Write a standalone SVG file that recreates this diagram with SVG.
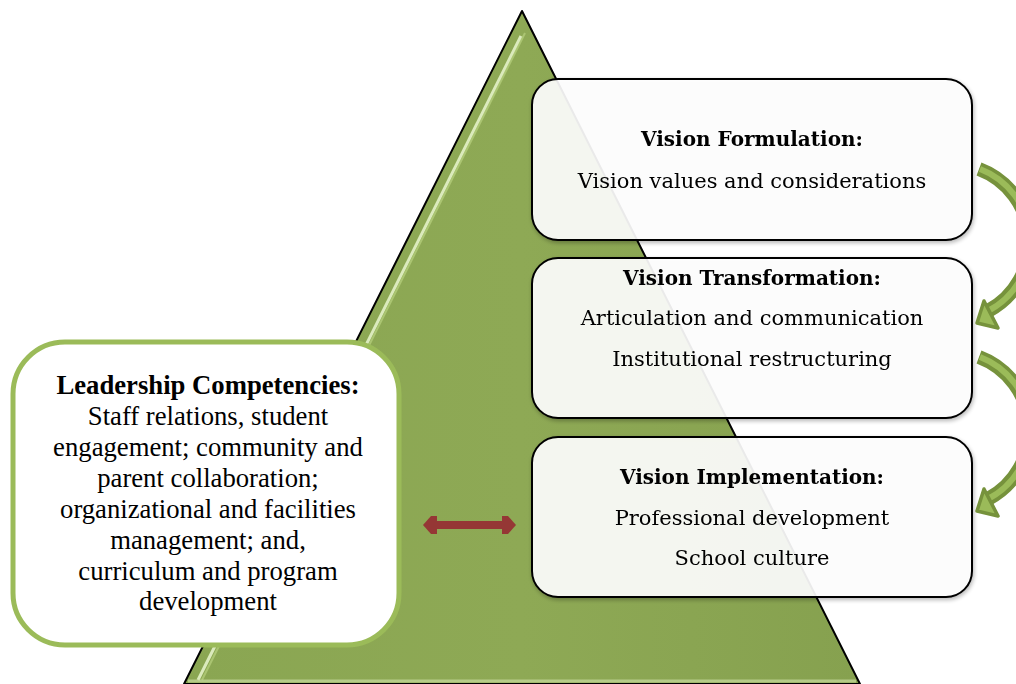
<svg xmlns="http://www.w3.org/2000/svg" width="1016" height="684" viewBox="0 0 1016 684">
  <style>
    .stage { font-family: "DejaVu Serif", "Liberation Serif", serif; fill: #000; text-anchor: middle; }
    .stage-title { font-size: 20px; font-weight: bold; }
    .stage-line { font-size: 21px; }
    .lead { font-family: "Liberation Serif", "Times New Roman", serif; fill: #000; text-anchor: middle; font-size: 26.7px; }
    .lead-title { font-weight: bold; }
    .stage-box { fill: #ffffff; fill-opacity: 0.9; stroke: #000; stroke-width: 2; }
    .cycle-band { fill: none; stroke: #76923c; stroke-width: 14; stroke-linecap: butt; }
    .cycle-core { fill: none; stroke: #9bbb59; stroke-width: 6; }
    .cycle-head { fill: #9bbb59; stroke: #76923c; stroke-width: 3.5; stroke-linejoin: round; }
  </style>
  <defs>
    <linearGradient id="pyrFill" x1="0" y1="0" x2="1" y2="0">
      <stop offset="0" stop-color="#8aa652"/>
      <stop offset="0.5" stop-color="#8ea955"/>
      <stop offset="1" stop-color="#86a14f"/>
    </linearGradient>
    <filter id="softShadow" x="-5%" y="-5%" width="112%" height="115%">
      <feGaussianBlur in="SourceAlpha" stdDeviation="2"/>
      <feOffset dx="1" dy="2" result="blur"/>
      <feComponentTransfer><feFuncA type="linear" slope="0.3"/></feComponentTransfer>
      <feMerge><feMergeNode/><feMergeNode in="SourceGraphic"/></feMerge>
    </filter>
  </defs>

  <rect width="1016" height="684" fill="#ffffff"/>

  <!-- pyramid backdrop -->
  <g id="pyramid">
    <polygon points="522,11 860,684 184,684" fill="url(#pyrFill)" stroke="#000" stroke-width="2" stroke-linejoin="round"/>
    <line x1="521" y1="36" x2="198" y2="680" stroke="#e4f2c8" stroke-width="3" opacity="0.9"/>
    <line x1="525" y1="33" x2="202" y2="680" stroke="#b8d27f" stroke-width="2" opacity="0.7"/>
    <line x1="188" y1="681" x2="856" y2="681" stroke="#c9dca0" stroke-width="3" opacity="0.7"/>
  </g>

  <!-- stage boxes -->
  <g id="vision-formulation" filter="url(#softShadow)">
    <rect class="stage-box" x="532" y="79" width="440" height="161" rx="26"/>
    <text class="stage stage-title" x="752" y="146">Vision Formulation:</text>
    <text class="stage stage-line" x="752" y="188">Vision values and considerations</text>
  </g>
  <g id="vision-transformation" filter="url(#softShadow)">
    <rect class="stage-box" x="532" y="258" width="440" height="160" rx="26"/>
    <text class="stage stage-title" x="752" y="285">Vision Transformation:</text>
    <text class="stage stage-line" x="752" y="325">Articulation and communication</text>
    <text class="stage stage-line" x="752" y="366">Institutional restructuring</text>
  </g>
  <g id="vision-implementation" filter="url(#softShadow)">
    <rect class="stage-box" x="532" y="437" width="440" height="160" rx="26"/>
    <text class="stage stage-title" x="752" y="484">Vision Implementation:</text>
    <text class="stage stage-line" x="752" y="525">Professional development</text>
    <text class="stage stage-line" x="752" y="565">School culture</text>
  </g>

  <!-- competencies box -->
  <g id="leadership-competencies">
    <rect x="13" y="342" width="386" height="303" rx="52" fill="#ffffff" stroke="#9bbb59" stroke-width="5"/>
    <text class="lead lead-title" x="208" y="394">Leadership Competencies:</text>
    <text class="lead" x="208" y="425">Staff relations, student</text>
    <text class="lead" x="208" y="456">engagement; community and</text>
    <text class="lead" x="208" y="487">parent collaboration;</text>
    <text class="lead" x="208" y="518">organizational and facilities</text>
    <text class="lead" x="208" y="549">management; and,</text>
    <text class="lead" x="208" y="580">curriculum and program</text>
    <text class="lead" x="208" y="610">development</text>
  </g>

  <!-- connectors -->
  <g id="connectors">
    <!-- two-way link between competencies and stages -->
    <g id="link-competencies-stages">
      <rect x="430" y="521" width="80" height="8" fill="#953735"/>
      <polygon points="423,525 431,516 437,516 437,534 431,534" fill="#953735"/>
      <polygon points="516,525 508,516 502,516 502,534 508,534" fill="#953735"/>
    </g>
    <!-- formulation to transformation -->
    <g id="cycle-1">
      <path class="cycle-band" d="M 979 169 A 78 78 0 0 1 988 311"/>
      <path class="cycle-core" d="M 980 169 A 78 78 0 0 1 988 311"/>
      <polygon class="cycle-head" points="977,323 984,301 998,328"/>
    </g>
    <!-- transformation to implementation -->
    <g id="cycle-2">
      <path class="cycle-band" d="M 979 357 A 78 78 0 0 1 988 499"/>
      <path class="cycle-core" d="M 980 357 A 78 78 0 0 1 988 499"/>
      <polygon class="cycle-head" points="977,511 984,489 998,516"/>
    </g>
  </g>
</svg>
